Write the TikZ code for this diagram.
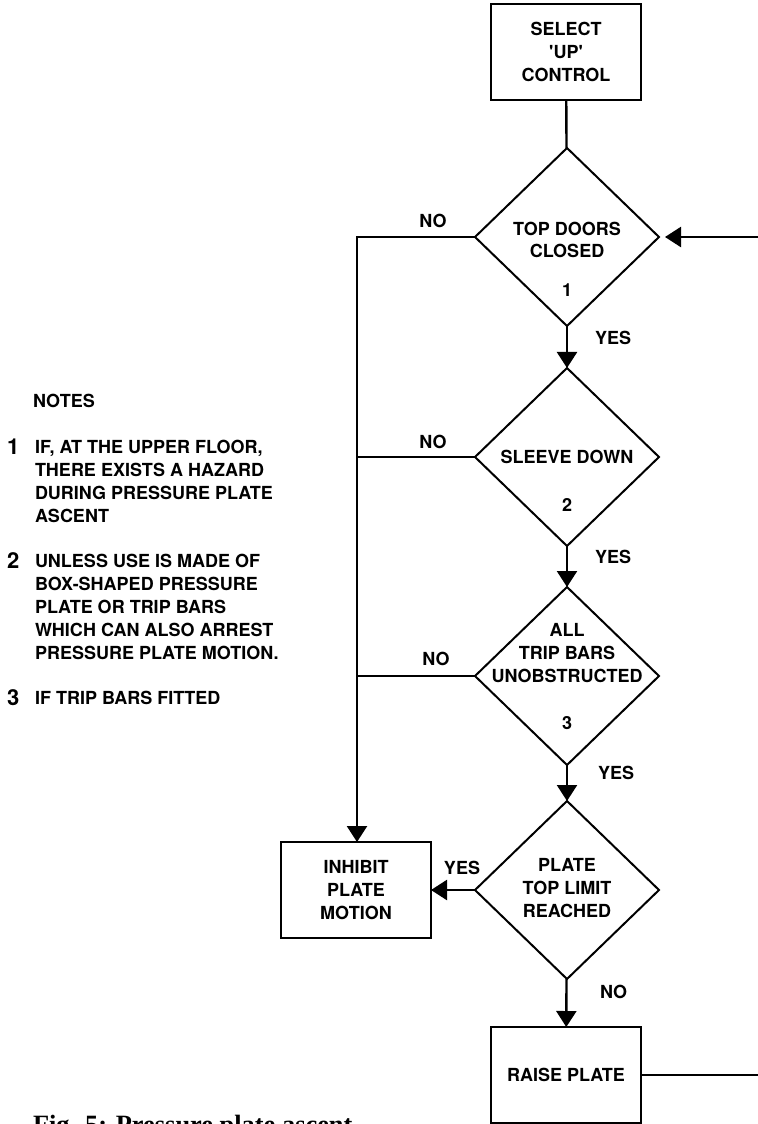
\documentclass[tikz,border=0pt]{standalone}
\usepackage{fontspec}
\setmainfont{TeX Gyre Heros}
\newfontfamily\capfont{Liberation Serif}
\usetikzlibrary{shapes.geometric,arrows.meta}

\begin{document}
\begin{tikzpicture}[x=0.5pt,y=-0.5pt,
  every node/.style={font=\bfseries\fontsize{9}{11.4}\selectfont, inner sep=0pt, outer sep=0pt},
  box/.style={draw, line width=1pt, minimum width=75pt, minimum height=48pt, align=center},
  dec/.style={draw, diamond, line width=1pt, minimum width=92pt, minimum height=89pt},
  txt/.style={align=center},
  note/.style={anchor=north west, align=left},
  num/.style={anchor=west, font=\bfseries\fontsize{11}{13}\selectfont},
  conn/.style={line width=1.2pt},
  arr/.style={line width=1.2pt, -{Triangle[length=8pt,width=10pt]}}]

\useasboundingbox (0,0) rectangle (758,1124);

\node[box] (sel) at (566,52) {SELECT\\\textquotesingle UP\textquotesingle\\CONTROL};

\node[dec] (top) at (567,237) {};
\node[dec] (sleeve) at (567,457) {};
\node[dec] (bars) at (567,676) {};
\node[dec] (limit) at (567,890) {};

\node[txt] (topt) at (567,240) {TOP DOORS\\CLOSED};
\node (topn) at (567,290) {1};
\node (sleevet) at (567,457) {SLEEVE DOWN};
\node (sleeven) at (567,505) {2};
\node[txt] (barst) at (567,653) {ALL\\TRIP BARS\\UNOBSTRUCTED};
\node (barsn) at (567,723) {3};
\node[txt] (limitt) at (567,888) {PLATE\\TOP LIMIT\\REACHED};

\node[box] (raise) at (566,1075) {RAISE PLATE};
\node[box] (inhibit) at (356,890) {INHIBIT\\PLATE\\MOTION};

\coordinate (j1) at (357,237);
\coordinate (j2) at (357,457);
\coordinate (j3) at (357,676);
\coordinate (r1) at (775,1075);
\coordinate (r2) at (775,237);

\draw[conn] (sel) -- (top);
\draw[arr] (top) -- (sleeve);
\draw[arr] (sleeve) -- (bars);
\draw[arr] (bars) -- (limit);
\draw[arr] (limit) -- (raise);
\draw[arr] (limit) -- (inhibit);
\draw[arr] (top) -- (j1) -- (j1 |- inhibit.north);
\draw[conn] (sleeve) -- (j2);
\draw[conn] (bars) -- (j3);
\draw[arr, shorten >=3pt] (raise) -- (r1) -- (r2) -- (top);

\node[anchor=west] (yes1) at (595,338) {YES};
\node[anchor=west] (yes2) at (595,557) {YES};
\node[anchor=west] (yes3) at (598,773) {YES};
\node[anchor=west] (no4) at (600,992) {NO};
\node (yes4) at (462,868) {YES};
\node (no1) at (433,221) {NO};
\node (no2) at (433,442) {NO};
\node (no3) at (436,659) {NO};

\node[anchor=west] (notes) at (33,401) {NOTES};
\node[num] (n1no) at (7,447) {1};
\node[note] (n1) at (35,440.5) {IF, AT THE UPPER FLOOR,\\THERE EXISTS A HAZARD\\DURING PRESSURE PLATE\\ASCENT};
\node[num] (n2no) at (7,561) {2};
\node[note] (n2) at (35,554.5) {UNLESS USE IS MADE OF\\BOX-SHAPED PRESSURE\\PLATE OR TRIP BARS\\WHICH CAN ALSO ARREST\\PRESSURE PLATE MOTION.};
\node[num] (n3no) at (7,698) {3};
\node[anchor=west] (n3) at (35,698) {IF TRIP BARS FITTED};

\node[anchor=base west, font=\capfont\bfseries\fontsize{13.2}{16}\selectfont] (cap) at (33,1133) {Fig. 5: Pressure plate ascent};
\end{tikzpicture}
\end{document}
